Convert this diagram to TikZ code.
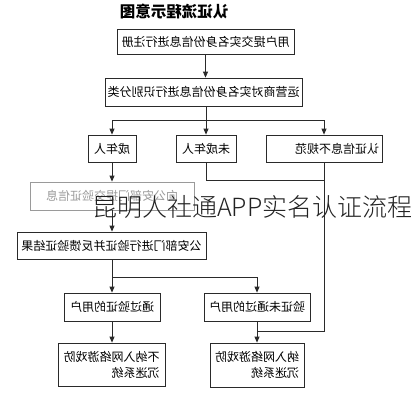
\documentclass[tikz,border=0pt]{standalone}
\usepackage{fontspec}
\usepackage{graphicx}
\newfontfamily\cjk{Noto Sans CJK SC}
\newfontfamily\cjklight{Noto Sans CJK SC Light}
\usetikzlibrary{arrows.meta}
\definecolor{ln}{HTML}{2A2A2A}
\definecolor{fade}{HTML}{9A9A9A}
\definecolor{ovl}{HTML}{222222}
\tikzset{
  box/.style={draw=ln, line width=0.8pt, inner sep=0pt, text=black,
    font=\cjk\fontsize{12}{15}\selectfont},
  fadebox/.style={box, draw=fade, text=fade},
  conn/.style={draw=ln, line width=0.8pt},
  arr/.style={conn, -{Triangle[length=6pt,width=5pt]}},
  ttl/.style={font=\cjk\bfseries\fontsize{15.5}{17}\selectfont, inner sep=0pt},
  ovltext/.style={font=\cjklight\fontsize{25}{28}\selectfont, text=ovl, inner sep=0pt, anchor=base west}
}
\begin{document}
\begin{tikzpicture}[x=1pt,y=-1pt]
\fill[white] (0,0) rectangle (417,400);
\useasboundingbox (0,0) rectangle (417,400);
% title
\node[ttl] (title) at (174,12) {\reflectbox{认证流程示意图}};
% boxes
\node[box, minimum width=177pt, minimum height=25pt] (b1) at (205.5,41.5) {\reflectbox{用户提交实名身份信息进行注册}};
\node[box, minimum width=197pt, minimum height=28pt] (b2) at (203.5,92) {\reflectbox{运营商对实名身份信息进行识别分类}};
\node[box, minimum width=48pt, minimum height=27pt] (c1) at (112,148.5) {\reflectbox{成年人}};
\node[box, minimum width=60pt, minimum height=27pt] (c2) at (206,148.5) {\reflectbox{未成年人}};
\node[box, minimum width=116pt, minimum height=27pt] (c3) at (324,148.5) {\hspace*{26pt}\reflectbox{认证信息不规范}};
\node[fadebox, minimum width=164pt, minimum height=28pt] (d1) at (112,196) {\reflectbox{向公安部门提交验证信息}};
\node[box, minimum width=189pt, minimum height=27pt] (d2) at (111.5,245.5) {\reflectbox{公安部门进行验证并反馈验证结果}};
\node[box, minimum width=96pt, minimum height=28pt] (e1) at (112,307) {\reflectbox{通过验证的用户}};
\node[box, minimum width=106pt, minimum height=28pt] (e2) at (257,307) {\reflectbox{验证未通过的用户}};
\node[box, minimum width=107pt, minimum height=43pt] (f1) at (111.5,364.5) {\reflectbox{\shortstack[l]{不纳入网络游戏防\\[2pt]沉迷系统}}};
\node[box, minimum width=94pt, minimum height=44pt] (f2) at (257,365) {\reflectbox{\shortstack[l]{纳入网络游戏防\\[2pt]沉迷系统}}};
% connectors
\draw[arr] (b1.south) -- (b1.south |- b2.north);
\coordinate (s1) at (206,120);
\draw[conn] (b2.south -| s1) -- (s1);
\draw[conn] (c1.north |- s1) -- (c3.north |- s1);
\draw[arr] (c1.north |- s1) -- (c1.north);
\draw[arr] (s1) -- (c2.north);
\draw[arr] (c3.north |- s1) -- (c3.north);
\coordinate (j1) at (324,180);
\draw[conn] (c2.south) -- (c2.south |- j1) -- (j1);
\coordinate (j2) at (324,331);
\coordinate (j3) at (257,331);
\draw[conn] (c3.south) -- (j2) -- (j3);
\draw[arr] (c1.south) -- (c1.south |- d1.north);
\draw[arr] (d1.south) -- (d1.south |- d2.north);
\coordinate (s2) at (112,277);
\draw[conn] (d2.south -| s2) -- (s2) -- (e2.north |- s2);
\draw[arr] (s2) -- (e1.north);
\draw[arr] (e2.north |- s2) -- (e2.north);
\draw[arr] (e1.south) -- (e1.south |- f1.north);
\draw[arr] (e2.south) -- (f2.north);
% overlay caption
\node[ovltext] (cap) at (92,216.5) {昆明人社通APP实名认证流程};
\end{tikzpicture}
\end{document}
